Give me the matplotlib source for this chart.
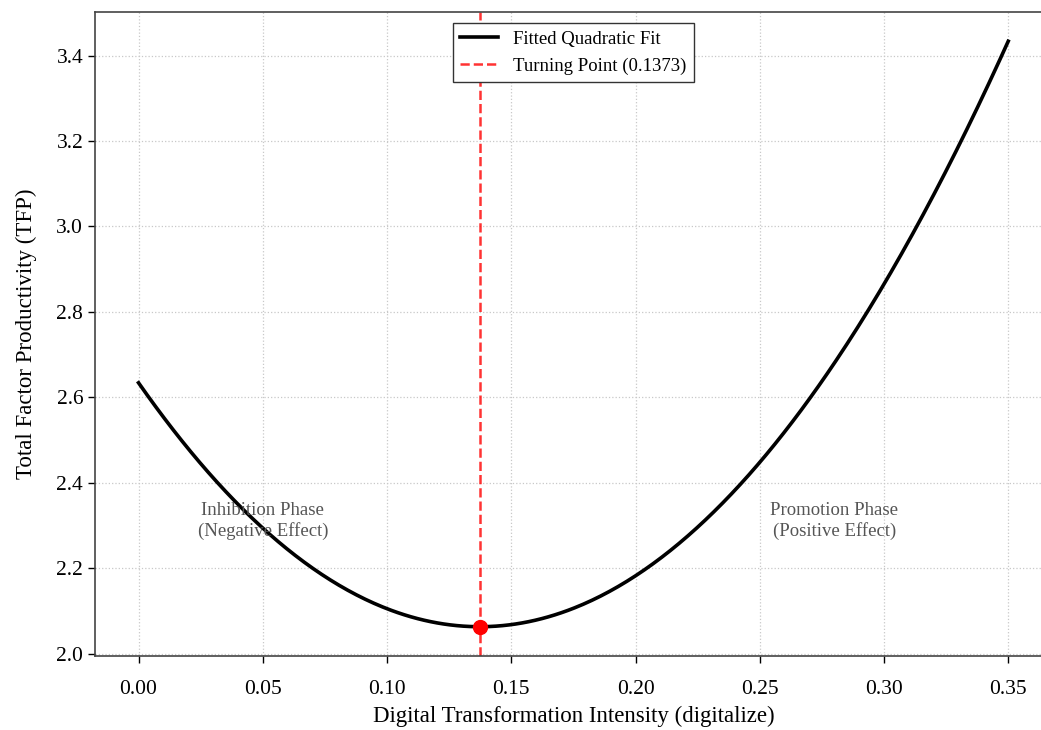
import numpy as np
import matplotlib.pyplot as plt

# fitted quadratic: TFP = b0 + b1*x + b2*x^2
b0 = 2.634
b1 = -8.32
b2 = 30.3
x_min = 0.0
x_max = 0.35

turning_point = 0.1373
phase_labels = ["Inhibition Phase\n(Negative Effect)", "Promotion Phase\n(Positive Effect)"]
phase_x = [0.05, 0.28]
phase_y = 2.31

plt.rcParams['font.family'] = ['Liberation Serif', 'DejaVu Serif']

x = np.linspace(x_min, x_max, 400)
y = b0 + b1 * x + b2 * x ** 2
y_turn = b0 + b1 * turning_point + b2 * turning_point ** 2

fig = plt.figure(figsize=(10.41, 7.30), dpi=100)
ax = fig.add_axes([0.0913, 0.1014, 0.919, 0.8822])

ax.plot(x, y, color="black", linewidth=2.6, label="Fitted Quadratic Fit")
ax.axvline(turning_point, color="red", linestyle="--", linewidth=1.8, alpha=0.8,
           label=f"Turning Point ({turning_point:.4f})")
ax.plot([turning_point], [y_turn], "o", color="red", markersize=10, zorder=5)

for lab, px in zip(phase_labels, phase_x):
    ax.text(px, phase_y, lab, ha="center", va="center", fontsize=13.5, color="#555555",
            linespacing=1.25)

ax.set_xlabel("Digital Transformation Intensity (digitalize)", fontsize=16.5, labelpad=5)
ax.set_ylabel("Total Factor Productivity (TFP)", fontsize=16.5, labelpad=14)
ax.tick_params(labelsize=15.5, length=5, width=1)
ax.tick_params(axis="x", pad=12)
ax.grid(True, linestyle=":", color="#c8c8c8", linewidth=0.9)

for s in ax.spines.values():
    s.set_color("#444444")
    s.set_linewidth(1.2)

leg = ax.legend(loc="upper center", fontsize=13.5, frameon=True, fancybox=False,
                edgecolor="#333333", framealpha=1, borderaxespad=0.6)
leg.get_frame().set_linewidth(1.0)

fig.savefig("out.png", dpi=100)
